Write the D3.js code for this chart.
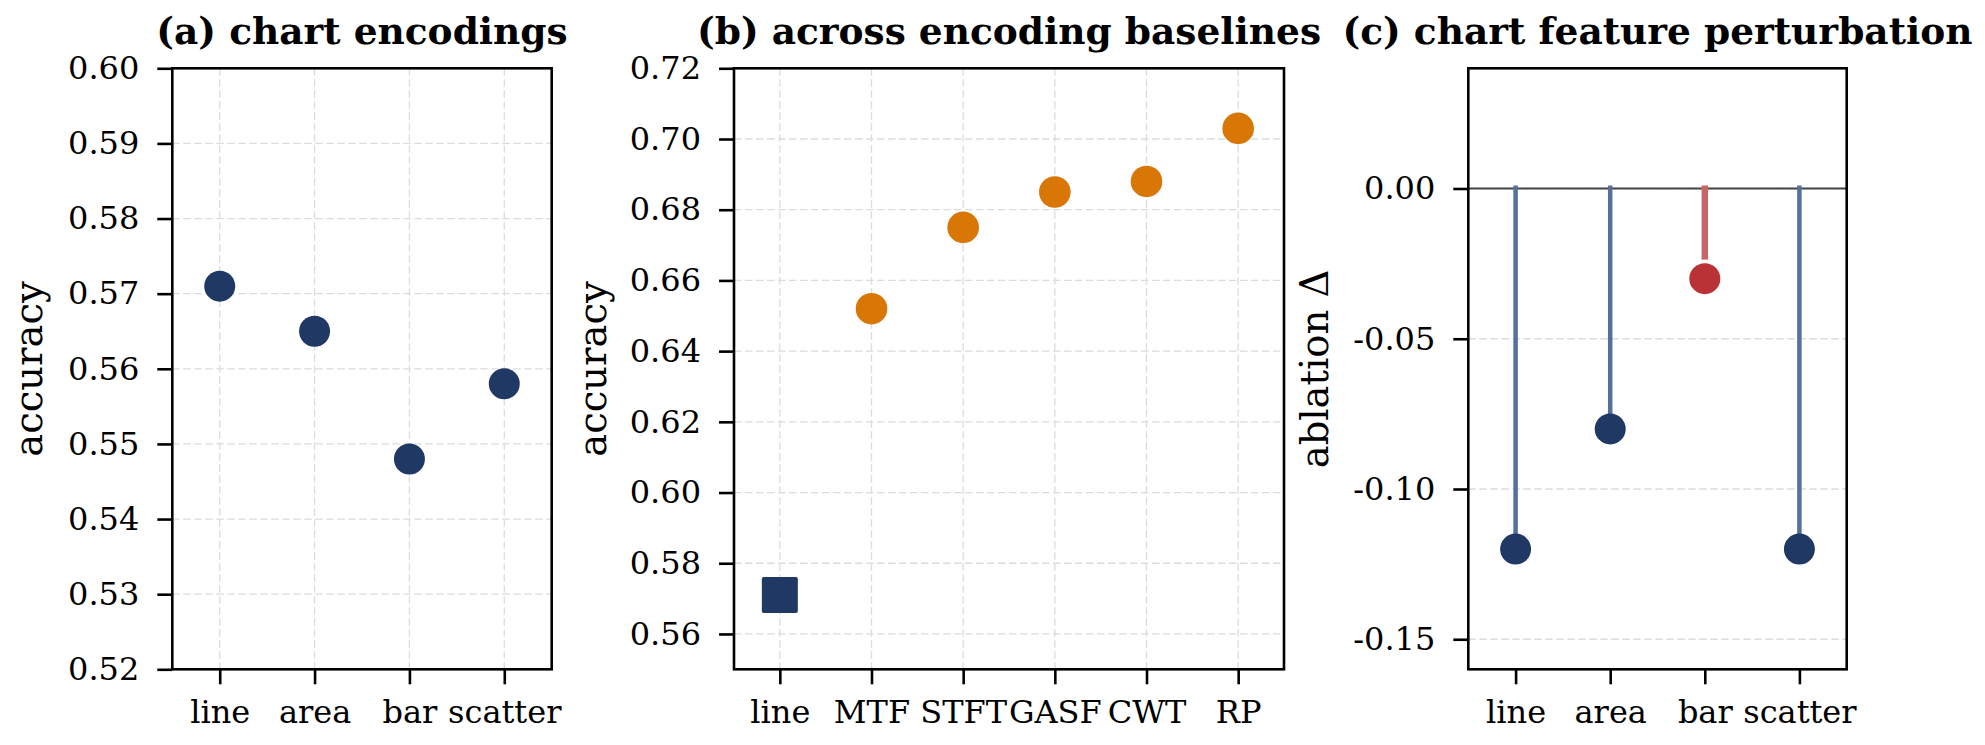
<!DOCTYPE html>
<html>
<head>
<meta charset="utf-8">
<script src="https://cdn.jsdelivr.net/npm/d3@7"></script>
<style>
    body { margin: 0; background: #fff; }
    svg { display: block; }
    text { font-family: "DejaVu Serif", serif; fill: #000; }
</style>
</head>
<body>
<div id="chart"></div>
<script>
// data panel (a): akurasi per encoding grafik
const encCategories = ["line", "area", "bar", "scatter"];
const encAccuracy = [0.571, 0.565, 0.548, 0.558];
const encTicks = [0.52, 0.53, 0.54, 0.55, 0.56, 0.57, 0.58, 0.59, 0.60];

// data panel (b): baseline encoding lain
const baseCategories = ["line", "MTF", "STFT", "GASF", "CWT", "RP"];
const baseAccuracy = [0.571, 0.652, 0.675, 0.685, 0.688, 0.703];
const baseTicks = [0.56, 0.58, 0.60, 0.62, 0.64, 0.66, 0.68, 0.70, 0.72];

// data panel (c): ablation delta
const pertCategories = ["line", "area", "bar", "scatter"];
const pertDelta = [-0.12, -0.08, -0.03, -0.12];
const pertTicks = [0.0, -0.05, -0.1, -0.15];

const NAVY = "#203864";
const ORANGE = "#d97706";
const RED = "#b83236";
const NAVY_STEM = "#56709a";
const RED_STEM = "#c96567";

const W = 1985, H = 745;
const plotTop = 68.3, plotBottom = 669.3;

const svg = d3.select("#chart")
    .append("svg")
    .attr("width", W)
    .attr("height", H);

svg.append("rect").attr("width", W).attr("height", H).attr("fill", "#fff");

// fungsi bantu untuk satu panel
function setupPanel(opt) {
    const g = svg.append("g");
    const x = d3.scalePoint()
        .domain(opt.categories)
        .range([opt.left, opt.right])
        .padding(0.5);
    const y = d3.scaleLinear()
        .domain(opt.domain)
        .range([plotBottom, plotTop]);

    // grid horizontal
    g.append("g")
        .selectAll("line")
        .data(opt.ticks)
        .enter()
        .append("line")
        .attr("x1", opt.left)
        .attr("x2", opt.right)
        .attr("y1", (d) => y(d))
        .attr("y2", (d) => y(d))
        .attr("stroke", "#dcdcdc")
        .attr("stroke-width", 1.3)
        .attr("stroke-dasharray", "7.5,3.5");

    // grid vertikal
    if (opt.vgrid) {
        g.append("g")
            .selectAll("line")
            .data(opt.categories)
            .enter()
            .append("line")
            .attr("x1", (d) => x(d))
            .attr("x2", (d) => x(d))
            .attr("y1", plotTop)
            .attr("y2", plotBottom)
            .attr("stroke", "#dcdcdc")
            .attr("stroke-width", 1.3)
            .attr("stroke-dasharray", "7.5,3.5");
    }

    // sumbu Y
    const yAxis = g.append("g")
        .attr("transform", `translate(${opt.left},0)`)
        .call(d3.axisLeft(y)
            .tickValues(opt.ticks)
            .tickFormat((d) => d.toFixed(2))
            .tickSize(15)
            .tickSizeOuter(0)
            .tickPadding(18));
    yAxis.select(".domain").remove();
    yAxis.selectAll("line").attr("stroke", "#000").attr("stroke-width", 2.6);
    yAxis.selectAll("text")
        .attr("fill", "#000")
        .style("font-family", "'DejaVu Serif', serif")
        .style("font-size", "32px");

    // sumbu X
    const xAxis = g.append("g")
        .attr("transform", `translate(0,${plotBottom})`)
        .call(d3.axisBottom(x)
            .tickSize(15)
            .tickSizeOuter(0)
            .tickPadding(16));
    xAxis.select(".domain").remove();
    xAxis.selectAll("line").attr("stroke", "#000").attr("stroke-width", 2.6);
    xAxis.selectAll("text")
        .attr("fill", "#000")
        .style("font-family", "'DejaVu Serif', serif")
        .style("font-size", "32px");

    // label sumbu Y
    g.append("text")
        .attr("transform", `translate(${opt.left - opt.labelOff},369) rotate(-90)`)
        .attr("text-anchor", "middle")
        .style("font-size", "38.5px")
        .text(opt.ylabel);

    // judul
    g.append("text")
        .attr("x", (opt.left + opt.right) / 2)
        .attr("y", 44)
        .attr("text-anchor", "middle")
        .style("font-size", "37.5px")
        .style("font-weight", "bold")
        .text(opt.title);

    return { g, x, y };
}

function drawFrame(opt) {
    svg.append("rect")
        .attr("x", opt.left)
        .attr("y", plotTop)
        .attr("width", opt.right - opt.left)
        .attr("height", plotBottom - plotTop)
        .attr("fill", "none")
        .attr("stroke", "#000")
        .attr("stroke-width", 2.6);
}

// Panel (a)
const optA = {
    categories: encCategories, left: 172.3, right: 551.7,
    domain: [0.52, 0.60], ticks: encTicks, vgrid: true,
    ylabel: "accuracy", labelOff: 130, title: "(a) chart encodings"
};
const pA = setupPanel(optA);
pA.g.selectAll(".dot")
    .data(encCategories)
    .enter()
    .append("circle")
    .attr("cx", (d) => pA.x(d))
    .attr("cy", (d, i) => pA.y(encAccuracy[i]))
    .attr("r", 15.5)
    .attr("fill", NAVY);
drawFrame(optA);

// Panel (b)
const optB = {
    categories: baseCategories, left: 734, right: 1284,
    domain: [0.55, 0.72], ticks: baseTicks, vgrid: true,
    ylabel: "accuracy", labelOff: 128.3, title: "(b) across encoding baselines"
};
const pB = setupPanel(optB);
const baseData = baseCategories.map((c, i) => ({ c, v: baseAccuracy[i] }));
pB.g.selectAll(".sq")
    .data(baseData.filter((d) => d.c === "line"))
    .enter()
    .append("rect")
    .attr("x", (d) => pB.x(d.c) - 18)
    .attr("y", (d) => pB.y(d.v) - 18)
    .attr("width", 36)
    .attr("height", 36)
    .attr("rx", 2)
    .attr("fill", NAVY);
pB.g.selectAll(".dot")
    .data(baseData.filter((d) => d.c !== "line"))
    .enter()
    .append("circle")
    .attr("cx", (d) => pB.x(d.c))
    .attr("cy", (d) => pB.y(d.v))
    .attr("r", 15.8)
    .attr("fill", ORANGE);
drawFrame(optB);

// Panel (c)
const optC = {
    categories: pertCategories, left: 1468.3, right: 1846.7,
    domain: [-0.16, 0.04], ticks: pertTicks, vgrid: false,
    ylabel: "ablation \u0394", labelOff: 140, title: "(c) chart feature perturbation"
};
const pC = setupPanel(optC);
const pertData = pertCategories.map((c, i) => ({ c, v: pertDelta[i] }));
const maxDelta = d3.max(pertDelta);

// garis nol
pC.g.append("line")
    .attr("x1", optC.left)
    .attr("x2", optC.right)
    .attr("y1", pC.y(0))
    .attr("y2", pC.y(0))
    .attr("stroke", "#444")
    .attr("stroke-width", 2.2);

// batang stem
pC.g.selectAll(".stem")
    .data(pertData)
    .enter()
    .append("line")
    .attr("x1", (d) => pC.x(d.c))
    .attr("x2", (d) => pC.x(d.c))
    .attr("y1", pC.y(0) - 3)
    .attr("y2", (d) => (d.v === maxDelta ? pC.y(d.v) - 19 : pC.y(d.v)))
    .attr("stroke", (d) => (d.v === maxDelta ? RED_STEM : NAVY_STEM))
    .attr("stroke-width", (d) => (d.v === maxDelta ? 6.5 : 4.5));

pC.g.selectAll(".dot")
    .data(pertData)
    .enter()
    .append("circle")
    .attr("cx", (d) => pC.x(d.c))
    .attr("cy", (d) => pC.y(d.v))
    .attr("r", 15.5)
    .attr("fill", (d) => (d.v === maxDelta ? RED : NAVY));
drawFrame(optC);
</script>
</body>
</html>
